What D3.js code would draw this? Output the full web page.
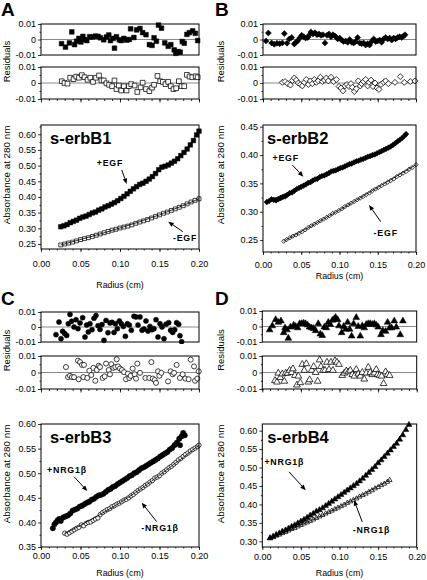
<!DOCTYPE html>
<html><head><meta charset="utf-8">
<script src="https://cdn.jsdelivr.net/npm/d3@7"></script>
<style>body{margin:0;background:#fff}svg text{font-family:"Liberation Sans",Arial,Helvetica,sans-serif}</style>
</head><body><svg id="c" width="427" height="580"></svg>
<script>
// ---------- DATA ----------
const xTicks = [0, 0.05, 0.10, 0.15, 0.20];
const resTicks = [-0.01, 0, 0.01];
const yTicksA = [0.25, 0.30, 0.35, 0.40, 0.45, 0.50, 0.55, 0.60];
const yTicksB = [0.25, 0.30, 0.35, 0.40, 0.45];
const yTicksC = [0.35, 0.40, 0.45, 0.50, 0.55, 0.60];
const yTicksD = [0.30, 0.35, 0.40, 0.45, 0.50, 0.55, 0.60];
const titles = ["s-erbB1", "s-erbB2", "s-erbB3", "s-erbB4"];
const labelsPlus = ["+EGF", "+EGF", "+NRG1\u03b2", "+NRG1\u03b2"];
const labelsMinus = ["-EGF", "-EGF", "-NRG1\u03b2", "-NRG1\u03b2"];

// Panel A  (radius cm, absorbance)
const erbB1Plus = [[0.025,0.305],[0.029,0.308],[0.033,0.312],[0.037,0.318],[0.041,0.322],[0.045,0.326],[0.049,0.332],[0.053,0.336],[0.057,0.339],[0.061,0.344],[0.065,0.349],[0.069,0.352],[0.073,0.358],[0.077,0.362],[0.081,0.368],[0.085,0.372],[0.089,0.377],[0.093,0.382],[0.097,0.388],[0.101,0.395],[0.105,0.402],[0.109,0.410],[0.113,0.418],[0.117,0.426],[0.121,0.433],[0.125,0.440],[0.129,0.444],[0.133,0.450],[0.137,0.457],[0.141,0.465],[0.145,0.475],[0.149,0.487],[0.153,0.495],[0.157,0.498],[0.161,0.502],[0.165,0.508],[0.169,0.514],[0.173,0.522],[0.177,0.532],[0.181,0.542],[0.185,0.553],[0.189,0.566],[0.193,0.580],[0.197,0.598],[0.200,0.610]];
const erbB1Minus = [[0.025,0.247],[0.030,0.250],[0.035,0.253],[0.040,0.256],[0.045,0.260],[0.050,0.264],[0.055,0.267],[0.060,0.270],[0.065,0.274],[0.070,0.278],[0.075,0.282],[0.080,0.286],[0.085,0.290],[0.090,0.294],[0.095,0.297],[0.100,0.301],[0.105,0.304],[0.110,0.307],[0.115,0.311],[0.120,0.316],[0.125,0.320],[0.130,0.324],[0.135,0.328],[0.140,0.333],[0.145,0.338],[0.150,0.343],[0.155,0.348],[0.160,0.352],[0.165,0.357],[0.170,0.362],[0.175,0.367],[0.180,0.372],[0.185,0.378],[0.190,0.384],[0.195,0.389],[0.200,0.394]];
const erbB1FitPlus = [[0.025,0.305],[0.05,0.333],[0.075,0.361],[0.1,0.394],[0.125,0.438],[0.15,0.486],[0.175,0.528],[0.2,0.61]];
const erbB1FitMinus = [[0.025,0.247],[0.1,0.301],[0.15,0.343],[0.2,0.394]];
const erbB1ResPlus = [[0.026,-0.0027],[0.031,-0.0049],[0.036,-0.0022],[0.039,0.0049],[0.0425,-0.0033],[0.045,-0.0011],[0.048,0.0007],[0.0505,-0.0016],[0.053,0.002],[0.055,0],[0.058,-0.0007],[0.0616,0.0018],[0.065,0.0016],[0.0688,0.0022],[0.0722,0.002],[0.0752,0.0011],[0.0794,-0.0002],[0.0828,0.0016],[0.0858,0.0029],[0.0879,-0.0007],[0.0913,0.0007],[0.093,-0.0056],[0.0955,0.0018],[0.099,-0.0002],[0.1015,-0.0007],[0.1049,0.0007],[0.1083,-0.0004],[0.1117,0],[0.1134,0.0069],[0.1176,0.0013],[0.121,0.0062],[0.1253,0.0071],[0.1287,0.0044],[0.1329,0.0031],[0.1372,-0.0033],[0.1406,-0.0038],[0.1431,0.0011],[0.1461,-0.0011],[0.1487,0.0093],[0.1525,0.0073],[0.1567,-0.0022],[0.161,-0.0044],[0.1643,-0.0033],[0.1686,-0.0067],[0.1707,-0.0089],[0.1737,-0.0078],[0.1762,-0.0082],[0.1788,-0.0013],[0.1813,-0.0024],[0.1847,0.0033],[0.1877,0.0044],[0.1919,0.0056],[0.1953,0.004],[0.1983,-0.0007]];
const erbB1ResMinus = [[0.0263,0.0011],[0.0297,0],[0.0335,-0.0004],[0.0369,0.0033],[0.0412,0.0024],[0.0446,0.004],[0.048,0.0033],[0.0518,0.0049],[0.0552,0.0036],[0.059,0.002],[0.0624,0.0033],[0.0658,0.0007],[0.0696,0.0033],[0.0734,0.0047],[0.0764,0.0016],[0.0794,0.0016],[0.0828,-0.0002],[0.0862,-0.0011],[0.09,-0.002],[0.093,0.0016],[0.0955,-0.0038],[0.0985,-0.0016],[0.1015,-0.0047],[0.1049,-0.002],[0.1083,-0.0047],[0.1112,-0.002],[0.1142,-0.0007],[0.1185,-0.0016],[0.1219,-0.0056],[0.1261,-0.0027],[0.1287,0.0002],[0.1329,-0.0038],[0.1372,-0.0051],[0.1406,-0.0029],[0.1431,-0.0011],[0.1474,0.0044],[0.1508,0.0011],[0.1542,0.0007],[0.1576,-0.0007],[0.161,0.0007],[0.1643,-0.002],[0.1677,-0.0038],[0.1711,-0.0033],[0.1745,0.0011],[0.1779,-0.002],[0.1813,-0.002],[0.1847,0.0051],[0.1881,0.004],[0.1915,0.0036],[0.1958,0.0042],[0.1983,0.0036]];

// Panel B
const erbB2Plus = [[0.005,0.317],[0.008,0.319],[0.011,0.322],[0.014,0.321],[0.017,0.320],[0.020,0.322],[0.023,0.324],[0.026,0.326],[0.029,0.327],[0.032,0.330],[0.035,0.333],[0.038,0.334],[0.041,0.337],[0.044,0.340],[0.047,0.342],[0.050,0.344],[0.053,0.346],[0.056,0.348],[0.059,0.351],[0.062,0.352],[0.065,0.355],[0.068,0.357],[0.071,0.358],[0.074,0.361],[0.077,0.363],[0.080,0.364],[0.083,0.366],[0.086,0.368],[0.089,0.371],[0.092,0.372],[0.095,0.373],[0.098,0.375],[0.101,0.377],[0.104,0.378],[0.107,0.380],[0.110,0.382],[0.113,0.384],[0.116,0.385],[0.119,0.387],[0.122,0.389],[0.125,0.390],[0.128,0.392],[0.131,0.393],[0.134,0.395],[0.137,0.397],[0.140,0.398],[0.143,0.400],[0.146,0.401],[0.149,0.403],[0.152,0.405],[0.155,0.407],[0.158,0.409],[0.161,0.411],[0.164,0.413],[0.167,0.415],[0.170,0.418],[0.173,0.421],[0.176,0.424],[0.179,0.427],[0.182,0.430],[0.185,0.434],[0.187,0.437]];
const erbB2Minus = [[0.027,0.248],[0.031,0.251],[0.035,0.254],[0.039,0.257],[0.043,0.259],[0.047,0.262],[0.051,0.265],[0.055,0.268],[0.059,0.272],[0.063,0.275],[0.067,0.278],[0.071,0.281],[0.075,0.284],[0.079,0.287],[0.083,0.290],[0.087,0.293],[0.091,0.297],[0.095,0.299],[0.099,0.302],[0.103,0.305],[0.107,0.309],[0.111,0.312],[0.115,0.315],[0.119,0.318],[0.123,0.321],[0.127,0.324],[0.131,0.327],[0.135,0.330],[0.139,0.333],[0.143,0.337],[0.147,0.340],[0.151,0.343],[0.155,0.346],[0.159,0.349],[0.163,0.352],[0.167,0.355],[0.171,0.358],[0.175,0.362],[0.179,0.365],[0.183,0.368],[0.187,0.371],[0.191,0.375],[0.195,0.378],[0.200,0.383]];
const erbB2FitPlus = [[0.005,0.318],[0.05,0.344],[0.1,0.376],[0.15,0.404],[0.187,0.436]];
const erbB2FitMinus = [[0.027,0.248],[0.1,0.303],[0.15,0.343],[0.2,0.383]];
const erbB2ResPlus = [[0.0039,-0.0009],[0.007,0.0042],[0.0113,-0.0022],[0.0148,-0.0031],[0.0183,-0.0024],[0.0218,-0.0027],[0.0253,-0.0022],[0.0279,0.0038],[0.0314,-0.0024],[0.0344,0.0004],[0.0375,0.0013],[0.0409,-0.0029],[0.0427,-0.002],[0.0453,-0.0009],[0.0479,0.0009],[0.0505,0.0027],[0.0532,0.0018],[0.0558,0.0009],[0.0584,0.0013],[0.061,0.0031],[0.0627,0.0049],[0.0654,0.0036],[0.068,0.0044],[0.0706,0.0031],[0.0732,0.0036],[0.0758,0.0027],[0.0784,0.0031],[0.081,-0.0022],[0.0837,0.0027],[0.0863,0.0036],[0.0889,0.0018],[0.0915,0.0031],[0.0941,0.0022],[0.0976,0.0004],[0.1002,0.0009],[0.1028,-0.0004],[0.1054,-0.0013],[0.1081,-0.0009],[0.1107,-0.0018],[0.1133,0],[0.1159,-0.0018],[0.1185,-0.0022],[0.1211,-0.0013],[0.1237,0.0013],[0.1263,-0.0022],[0.129,-0.0027],[0.1316,-0.0022],[0.1342,-0.0036],[0.1368,-0.0027],[0.1394,-0.0036],[0.142,-0.0013],[0.1447,0.0004],[0.1473,-0.0013],[0.1499,-0.0009],[0.1525,-0.0004],[0.1551,-0.0018],[0.1577,0.0004],[0.1603,0.0013],[0.163,0.0004],[0.1656,0.0009],[0.1682,-0.0004],[0.1708,0.0009],[0.1734,0.0004],[0.176,0.0013],[0.1786,0.0018],[0.1813,0.0013],[0.1839,0.0022],[0.1856,0.0031]];
const erbB2ResMinus = [[0.0253,0.0004],[0.0288,0.0009],[0.0323,-0.0004],[0.0358,-0.0013],[0.0384,0.0016],[0.0409,0.0031],[0.0436,0.0018],[0.0462,0],[0.0488,-0.0009],[0.0514,-0.0018],[0.054,0.0004],[0.0566,0.0022],[0.0593,-0.0009],[0.0619,0.0013],[0.0645,-0.0004],[0.0671,0.0022],[0.0697,0.0004],[0.0723,0.0013],[0.075,0.0036],[0.0776,0.0009],[0.0802,0.0018],[0.0828,0.0031],[0.0854,0.0013],[0.0889,0.0036],[0.0924,0.0009],[0.0959,0.0022],[0.0993,-0.0022],[0.102,-0.0031],[0.1046,-0.0049],[0.1072,-0.0018],[0.1098,-0.0009],[0.1124,-0.0022],[0.115,-0.0004],[0.1168,-0.0027],[0.1194,-0.0053],[0.122,-0.0036],[0.1246,0.0013],[0.1272,-0.0018],[0.129,-0.0004],[0.1316,0.0009],[0.1342,0.0022],[0.1368,-0.0018],[0.1386,0.0004],[0.1412,0.0018],[0.1438,-0.0022],[0.1464,0],[0.149,-0.0031],[0.1516,-0.004],[0.1542,-0.0009],[0.1577,0.0004],[0.1603,0.0013],[0.1638,-0.0004],[0.1725,0.0004],[0.1795,0.004],[0.1847,0.0004],[0.1926,0.0009],[0.1987,0.0013]];

// Panel C
const erbB3Plus = [[0.015,0.388],[0.017,0.396],[0.019,0.400],[0.021,0.404],[0.023,0.407],[0.025,0.403],[0.028,0.410],[0.031,0.412],[0.034,0.414],[0.037,0.418],[0.040,0.424],[0.043,0.426],[0.046,0.428],[0.049,0.432],[0.052,0.434],[0.055,0.437],[0.058,0.440],[0.061,0.442],[0.064,0.446],[0.067,0.448],[0.070,0.452],[0.073,0.455],[0.076,0.456],[0.079,0.458],[0.082,0.462],[0.085,0.466],[0.088,0.468],[0.091,0.472],[0.094,0.474],[0.097,0.478],[0.100,0.481],[0.103,0.484],[0.106,0.487],[0.109,0.490],[0.112,0.494],[0.115,0.496],[0.118,0.500],[0.121,0.502],[0.124,0.506],[0.127,0.510],[0.130,0.512],[0.133,0.515],[0.136,0.518],[0.139,0.521],[0.142,0.524],[0.145,0.527],[0.148,0.530],[0.151,0.534],[0.154,0.537],[0.157,0.540],[0.160,0.543],[0.163,0.548],[0.166,0.551],[0.169,0.557],[0.172,0.562],[0.175,0.570],[0.176,0.557],[0.178,0.575],[0.180,0.582],[0.182,0.577]];
const erbB3Minus = [[0.030,0.378],[0.033,0.376],[0.036,0.379],[0.039,0.382],[0.042,0.385],[0.045,0.388],[0.048,0.390],[0.051,0.395],[0.054,0.393],[0.057,0.398],[0.060,0.400],[0.063,0.401],[0.066,0.404],[0.069,0.407],[0.072,0.409],[0.075,0.416],[0.078,0.420],[0.081,0.423],[0.084,0.426],[0.087,0.428],[0.090,0.432],[0.093,0.434],[0.096,0.437],[0.099,0.439],[0.102,0.442],[0.105,0.445],[0.108,0.447],[0.111,0.450],[0.114,0.454],[0.117,0.457],[0.120,0.461],[0.123,0.465],[0.126,0.468],[0.129,0.471],[0.132,0.475],[0.135,0.478],[0.138,0.482],[0.141,0.485],[0.144,0.490],[0.147,0.492],[0.150,0.495],[0.153,0.500],[0.156,0.503],[0.159,0.507],[0.162,0.511],[0.165,0.514],[0.168,0.518],[0.171,0.522],[0.174,0.527],[0.177,0.530],[0.180,0.534],[0.183,0.538],[0.186,0.541],[0.189,0.545],[0.192,0.548],[0.195,0.551],[0.198,0.554],[0.200,0.557]];
const erbB3FitPlus = [[0.015,0.392],[0.06,0.441],[0.1,0.481],[0.14,0.522],[0.18,0.578]];
const erbB3FitMinus = [[0.03,0.377],[0.08,0.421],[0.12,0.461],[0.16,0.508],[0.2,0.557]];
const erbB3ResPlus = [[0.019,-0.0051],[0.0228,0.0033],[0.0253,-0.0078],[0.0274,-0.0029],[0.03,-0.0044],[0.0325,-0.0056],[0.0346,0.0022],[0.0367,0.0084],[0.0388,0.0038],[0.0418,0],[0.0443,0.0049],[0.0468,-0.0011],[0.0494,0.0027],[0.0527,0.0062],[0.0557,-0.0067],[0.0578,0.0013],[0.0599,-0.0033],[0.062,0.0022],[0.0646,-0.0018],[0.0671,0.0058],[0.0696,0.0076],[0.0722,0.0009],[0.0747,-0.0016],[0.0772,0.0016],[0.0797,-0.0089],[0.0823,0.0044],[0.0848,-0.0038],[0.0873,0.0027],[0.0899,0.0031],[0.0924,-0.0036],[0.0941,0.0022],[0.0966,-0.0011],[0.0992,0.004],[0.1017,0.0022],[0.1043,0.0004],[0.1068,-0.0062],[0.1093,0.0022],[0.1118,0.0013],[0.1143,-0.0022],[0.1177,0.0071],[0.1203,0.0067],[0.1228,0.0013],[0.1253,0.0067],[0.1279,-0.0022],[0.1304,-0.0013],[0.1329,0.004],[0.1354,-0.0027],[0.138,0.0004],[0.1405,-0.0018],[0.143,-0.0011],[0.1456,0.0049],[0.1481,-0.0067],[0.1506,0.0022],[0.1532,0],[0.1557,-0.0078],[0.1582,0.0018],[0.1616,0.0029],[0.1641,-0.0022],[0.1667,-0.0036],[0.1692,-0.0018],[0.1717,0.0029],[0.1743,0.0018],[0.1759,-0.0058],[0.178,-0.0098]];
const erbB3ResMinus = [[0.0316,0.0033],[0.0342,-0.0028],[0.0367,-0.002],[0.0392,-0.0028],[0.0418,-0.0028],[0.0468,0.0072],[0.0494,0.0063],[0.0519,0.0046],[0.0544,0.0046],[0.0477,-0.0041],[0.0536,-0.0028],[0.0586,-0.0033],[0.0612,0.0011],[0.0637,-0.0015],[0.0662,0.0028],[0.0688,-0.005],[0.0705,0.0015],[0.073,0.0041],[0.0747,0.0033],[0.078,-0.0033],[0.0806,-0.0024],[0.0823,0.0054],[0.0857,0.0015],[0.0873,-0.0011],[0.089,0.005],[0.0916,0.0028],[0.0941,0.0033],[0.0958,0.008],[0.0975,0.0037],[0.1,0.0024],[0.1025,0.0015],[0.1051,0.0002],[0.1076,-0.0041],[0.1101,-0.0007],[0.1118,-0.0033],[0.1135,-0.002],[0.116,0.0024],[0.1186,-0.0011],[0.1203,-0.0037],[0.1219,0.0054],[0.1253,-0.0002],[0.1321,-0.0033],[0.1371,-0.0033],[0.1397,0.0063],[0.1414,-0.0037],[0.1439,-0.0046],[0.1456,-0.0063],[0.1481,0.0007],[0.1498,-0.002],[0.1523,-0.0002],[0.1608,-0.0054],[0.1641,0.0007],[0.1667,-0.0011],[0.1684,-0.0002],[0.1717,0.0046],[0.1759,-0.0033],[0.1793,-0.0011],[0.1827,-0.0037],[0.1869,-0.0041],[0.1895,0.0078],[0.1937,0.0037],[0.195,-0.005],[0.1979,-0.0037],[0.1996,0.0007]];

// Panel D
const erbB4Plus = [[0.010,0.309],[0.014,0.313],[0.018,0.318],[0.022,0.322],[0.026,0.327],[0.030,0.330],[0.034,0.335],[0.038,0.340],[0.042,0.344],[0.046,0.349],[0.050,0.354],[0.054,0.359],[0.058,0.364],[0.062,0.370],[0.066,0.375],[0.070,0.381],[0.074,0.385],[0.078,0.390],[0.082,0.396],[0.086,0.402],[0.090,0.408],[0.094,0.414],[0.098,0.420],[0.102,0.426],[0.106,0.432],[0.110,0.438],[0.114,0.444],[0.118,0.450],[0.122,0.456],[0.126,0.463],[0.130,0.470],[0.134,0.478],[0.138,0.486],[0.142,0.494],[0.146,0.502],[0.150,0.512],[0.154,0.520],[0.158,0.529],[0.162,0.538],[0.166,0.547],[0.170,0.556],[0.174,0.565],[0.178,0.576],[0.182,0.588],[0.186,0.602],[0.190,0.616]];
const erbB4Minus = [[0.010,0.308],[0.014,0.311],[0.018,0.315],[0.022,0.318],[0.026,0.322],[0.030,0.325],[0.034,0.329],[0.038,0.333],[0.042,0.336],[0.046,0.340],[0.050,0.344],[0.054,0.348],[0.058,0.351],[0.062,0.355],[0.066,0.359],[0.070,0.363],[0.074,0.367],[0.078,0.371],[0.082,0.375],[0.086,0.379],[0.090,0.383],[0.094,0.387],[0.098,0.391],[0.102,0.395],[0.106,0.399],[0.110,0.404],[0.114,0.408],[0.118,0.412],[0.122,0.416],[0.126,0.421],[0.130,0.425],[0.134,0.429],[0.138,0.434],[0.142,0.438],[0.146,0.443],[0.150,0.447],[0.154,0.452],[0.158,0.456],[0.162,0.461],[0.165,0.466]];
const erbB4FitPlus = [[0.01,0.309],[0.05,0.354],[0.1,0.423],[0.15,0.511],[0.19,0.616]];
const erbB4FitMinus = [[0.01,0.308],[0.08,0.373],[0.165,0.466]];
const erbB4ResPlus = [[0.0095,-0.0022],[0.013,0.0004],[0.0173,0.0044],[0.0208,0.0027],[0.0242,0.0036],[0.0277,-0.004],[0.0294,-0.0009],[0.032,-0.0022],[0.0337,-0.0076],[0.0363,-0.0004],[0.0406,0.0009],[0.0432,0],[0.0458,-0.0009],[0.0484,0.0018],[0.051,0.0018],[0.0535,0.0022],[0.0561,0.0018],[0.0587,0.0009],[0.0613,-0.0004],[0.0639,-0.0009],[0.0665,-0.0013],[0.0691,-0.0027],[0.0725,0.0018],[0.0751,-0.0049],[0.0777,-0.0058],[0.0803,-0.0004],[0.0829,-0.0009],[0.0855,0.0027],[0.0881,0.0013],[0.0907,0.004],[0.0933,0.0049],[0.095,0.0058],[0.0976,0.0044],[0.0993,0.0004],[0.1028,-0.004],[0.1054,0],[0.108,-0.0018],[0.1105,0.0027],[0.1131,-0.0018],[0.1157,-0.0062],[0.1183,0.0018],[0.1217,0.0058],[0.1243,0],[0.1269,-0.0062],[0.1295,0.0004],[0.1321,-0.0009],[0.1347,0.0013],[0.1373,0.0018],[0.1399,0.0018],[0.1425,0.0013],[0.1451,0.0018],[0.1476,0.0009],[0.1502,-0.0004],[0.1537,-0.0053],[0.1562,-0.0027],[0.1597,-0.0031],[0.1623,0.0027],[0.1649,-0.0009],[0.1675,-0.0009],[0.1709,0.0036],[0.1735,-0.0004],[0.1787,-0.0053],[0.1821,0.0036]];
const erbB4ResMinus = [[0.0164,-0.0049],[0.019,-0.0058],[0.0207,-0.0004],[0.0233,-0.0031],[0.0259,-0.0009],[0.0285,-0.0053],[0.0302,-0.0004],[0.0328,-0.0004],[0.0354,0.0013],[0.038,0],[0.0397,0.0022],[0.0423,-0.0018],[0.0449,-0.0076],[0.0467,-0.0022],[0.0492,-0.0062],[0.0518,0.0049],[0.0544,0.0013],[0.057,0.0053],[0.0596,-0.0058],[0.0613,-0.0044],[0.0639,0.0013],[0.0665,0.0036],[0.0691,0],[0.0717,-0.0053],[0.0743,0.0076],[0.076,0.0036],[0.0786,0.0013],[0.0812,0.0013],[0.0838,0.0062],[0.0864,0.0018],[0.089,0.0062],[0.0915,0.0013],[0.0941,0.0071],[0.0967,0.0062],[0.0993,0.0049],[0.1036,-0.0018],[0.1062,-0.0004],[0.1088,0.0009],[0.1114,0.0004],[0.114,0.0013],[0.1166,-0.0013],[0.1192,-0.0022],[0.1217,0.0018],[0.1243,-0.0009],[0.1269,-0.0022],[0.1295,0],[0.1321,-0.004],[0.1347,-0.0004],[0.1373,0.0031],[0.1399,0],[0.1425,-0.0013],[0.1451,-0.0004],[0.1476,0.0018],[0.1494,-0.0013],[0.152,-0.0018],[0.1546,-0.0022],[0.1571,-0.0067],[0.1597,0.0004],[0.1623,-0.0013],[0.1649,-0.0018]];

// annotation anchors in data units: [textX, textY, arrowFromX, arrowFromY, arrowToX, arrowToY]
const annotPlus = [[0.0873,0.5087,0.1022,0.4863,0.1085,0.4416],[0.0297,0.3948,0.0383,0.3825,0.0527,0.3618],[0.0329,0.5065,0.0418,0.4929,0.0586,0.4638],[0.0285,0.5156,0.0346,0.4884,0.0562,0.4387]];
const annotMinus = [[0.1823,0.269,0.1794,0.2893,0.1611,0.3212],[0.1604,0.263,0.1539,0.2824,0.1386,0.3119],[0.1506,0.388,0.1465,0.4014,0.1275,0.44],[0.1414,0.330,0.1295,0.3525,0.1188,0.4115]];

// ---------- LAYOUT ----------
const layout = [
  {letter:"A", lx:1, ly:16, x0:41, x1:199, rt:[24,55], rb:[67,99], mt:125, mb:249, ydom:[0.234,0.6296], yt:yTicksA, xpad:8.5, xTitleY:288, ylabX:7, tdx:9, tdy:18.5, shape:"square", plus:erbB1Plus, minus:erbB1Minus, fp:erbB1FitPlus, fm:erbB1FitMinus, rp:erbB1ResPlus, rm:erbB1ResMinus, ms:21, mo:15, rs:22},
  {letter:"B", lx:215, ly:16, x0:263, x1:416, rt:[24,55], rb:[67,99], mt:125, mb:252, ydom:[0.229,0.453], yt:yTicksB, xpad:6.5, xTitleY:279, ylabX:221, tdx:4, tdy:18.5, shape:"diamond", plus:erbB2Plus, minus:erbB2Minus, fp:erbB2FitPlus, fm:erbB2FitMinus, rp:erbB2ResPlus, rm:erbB2ResMinus, ms:16, mo:9, rs:18},
  {letter:"C", lx:1, ly:305, x0:41, x1:199, rt:[312,342], rb:[356,389], mt:424, mb:547, ydom:[0.35,0.60], yt:yTicksC, xpad:3, xTitleY:576, ylabX:7, tdx:9, tdy:19, shape:"circle", plus:erbB3Plus, minus:erbB3Minus, fp:erbB3FitPlus, fm:erbB3FitMinus, rp:erbB3ResPlus, rm:erbB3ResMinus, ms:22, mo:15, rs:20},
  {letter:"D", lx:215, ly:305, x0:262.3, x1:416.7, rt:[311,342], rb:[356,389], mt:424, mb:547, ydom:[0.2846,0.618], yt:yTicksD, xpad:3.5, xTitleY:576, ylabX:221, tdx:5, tdy:19, shape:"triangle", plus:erbB4Plus, minus:erbB4Minus, fp:erbB4FitPlus, fm:erbB4FitMinus, rp:erbB4ResPlus, rm:erbB4ResMinus, ms:15, mo:10, rs:20}
];

const svg = d3.select("#c");
const symType = {square:d3.symbolSquare, diamond:d3.symbolSquare, circle:d3.symbolCircle, triangle:d3.symbolTriangle};

function marks(g, data, x, y, shape, filled, size){
  const sym = d3.symbol().type(symType[shape]).size(size);
  g.append("g").selectAll("path").data(data).join("path")
    .attr("transform", d => `translate(${x(d[0])},${y(d[1])})` + (shape==="diamond" ? " rotate(45)" : ""))
    .attr("d", sym)
    .attr("fill", filled ? "#000" : "#fff")
    .attr("stroke", "#000")
    .attr("stroke-width", filled ? 0.5 : 0.75);
}
function styleAxis(sel){
  sel.select(".domain").remove();
  sel.selectAll(".tick line").attr("stroke","#000").attr("stroke-width",0.8);
  sel.selectAll(".tick text").attr("fill","#000").style("font-size","9px").style("font-family",'"Liberation Sans",Arial,sans-serif');
}
function frame(g, x0, y0, x1, y1){
  g.append("rect").attr("x",x0).attr("y",y0).attr("width",x1-x0).attr("height",y1-y0)
    .attr("fill","none").attr("stroke","#000").attr("stroke-width",1);
}
const resFmt = d => d === 0 ? "0" : d.toFixed(2);
const minorX = d3.range(0, 0.2001, 0.01);

layout.forEach((L, i) => {
  const g = svg.append("g");
  const x = d3.scaleLinear().domain([0, 0.2]).range([L.x0, L.x1]);

  g.append("text").attr("x", L.lx).attr("y", L.ly).text(L.letter)
    .style("font-size","19px").style("font-weight","bold");

  [[L.rt, L.rp, true], [L.rb, L.rm, false]].forEach(([ry, data, filled], k) => {
    const yr = d3.scaleLinear().domain([-0.01, 0.01]).range([ry[1], ry[0]]);
    g.append("line").attr("x1", L.x0).attr("x2", L.x1).attr("y1", yr(0)).attr("y2", yr(0))
      .attr("stroke","#8a8a8a").attr("stroke-width",1);
    const ga = g.append("g").attr("transform",`translate(${L.x0},0)`)
      .call(d3.axisLeft(yr).tickValues(resTicks).tickSize(3).tickPadding(2).tickFormat(resFmt));
    styleAxis(ga);
    const gm = g.append("g").attr("transform",`translate(${L.x0},0)`)
      .call(d3.axisLeft(yr).tickValues([-0.005, 0.005]).tickSize(1.5).tickFormat(""));
    styleAxis(gm);
    if (k === 1) {
      const gx = g.append("g").attr("transform",`translate(0,${ry[1]})`)
        .call(d3.axisBottom(x).tickValues(xTicks).tickSize(3.5).tickFormat(""));
      styleAxis(gx);
      const gxm = g.append("g").attr("transform",`translate(0,${ry[1]})`)
        .call(d3.axisBottom(x).tickValues(minorX).tickSize(2).tickFormat(""));
      styleAxis(gxm);
    }
    const clipId = `clip${i}_${k}`;
    g.append("clipPath").attr("id", clipId).append("rect")
      .attr("x", L.x0-3).attr("y", ry[0]-2).attr("width", L.x1-L.x0+6).attr("height", ry[1]-ry[0]+4);
    const gp = g.append("g").attr("clip-path", `url(#${clipId})`);
    marks(gp, data, x, yr, L.shape, filled, L.rs);
    frame(g, L.x0, ry[0], L.x1, ry[1]);
  });
  g.append("text").attr("transform",`translate(${L.ylabX},${(L.rt[0]+L.rb[1])/2}) rotate(-90)`)
    .attr("text-anchor","middle").attr("dy","0.35em").style("font-size","9.5px").text("Residuals");

  const y = d3.scaleLinear().domain(L.ydom).range([L.mb, L.mt]);
  const gy = g.append("g").attr("transform",`translate(${L.x0},0)`)
    .call(d3.axisLeft(y).tickValues(L.yt).tickSize(3).tickPadding(2).tickFormat(d => d.toFixed(2)));
  styleAxis(gy);
  const minorY = L.yt.slice(0, -1).map(v => v + 0.025).concat([L.yt[L.yt.length-1] + 0.025, L.yt[0] - 0.025])
    .filter(v => v >= L.ydom[0] && v <= L.ydom[1]);
  const gym = g.append("g").attr("transform",`translate(${L.x0},0)`)
    .call(d3.axisLeft(y).tickValues(minorY).tickSize(1.5).tickFormat(""));
  styleAxis(gym);
  const gx = g.append("g").attr("transform",`translate(0,${L.mb})`)
    .call(d3.axisBottom(x).tickValues(xTicks).tickSize(3).tickPadding(L.xpad).tickFormat(d => d.toFixed(2)));
  styleAxis(gx);
  const gxm = g.append("g").attr("transform",`translate(0,${L.mb})`)
    .call(d3.axisBottom(x).tickValues(minorX).tickSize(1.5).tickFormat(""));
  styleAxis(gxm);

  const line = d3.line().x(d => x(d[0])).y(d => y(d[1])).curve(d3.curveMonotoneX);
  marks(g, L.minus, x, y, L.shape, false, L.mo);
  g.append("path").attr("d", line(L.fm)).attr("fill","none").attr("stroke","#000").attr("stroke-width",0.8);
  marks(g, L.plus, x, y, L.shape, true, L.ms);
  g.append("path").attr("d", line(L.fp)).attr("fill","none").attr("stroke","#000").attr("stroke-width",0.8);
  frame(g, L.x0, L.mt, L.x1, L.mb);

  g.append("text").attr("x", L.x0 + L.tdx).attr("y", L.mt + L.tdy).text(titles[i])
    .style("font-size","16.5px").style("font-weight","bold");

  g.append("text").attr("x", (L.x0+L.x1)/2).attr("y", L.xTitleY).attr("text-anchor","middle")
    .style("font-size","8.8px").text("Radius (cm)");
  g.append("text").attr("transform",`translate(${L.ylabX},${L.mt + 50}) rotate(-90)`)
    .attr("text-anchor","middle").attr("dy","0.35em").style("font-size","9.8px").text("Absorbance at 280 nm");

  [[annotPlus[i], labelsPlus[i]], [annotMinus[i], labelsMinus[i]]].forEach(([a, lab]) => {
    g.append("text").attr("x", x(a[0])).attr("y", y(a[1])).attr("text-anchor","middle").attr("dy","0.35em")
      .style("font-size","8.8px").style("font-weight","bold").style("letter-spacing","0.8px").text(lab);
    const x1 = x(a[2]), y1 = y(a[3]), x2 = x(a[4]), y2 = y(a[5]);
    const ang = Math.atan2(y2-y1, x2-x1);
    const hl = 5.5, hw = 2.3;
    const bx = x2 - hl*Math.cos(ang), by = y2 - hl*Math.sin(ang);
    g.append("line").attr("x1", x1).attr("y1", y1).attr("x2", bx).attr("y2", by)
      .attr("stroke","#000").attr("stroke-width",1);
    g.append("path").attr("d", `M${x2},${y2}L${bx - hw*Math.sin(ang)},${by + hw*Math.cos(ang)}L${bx + hw*Math.sin(ang)},${by - hw*Math.cos(ang)}Z`)
      .attr("fill","#000");
  });
});
</script></body></html>
